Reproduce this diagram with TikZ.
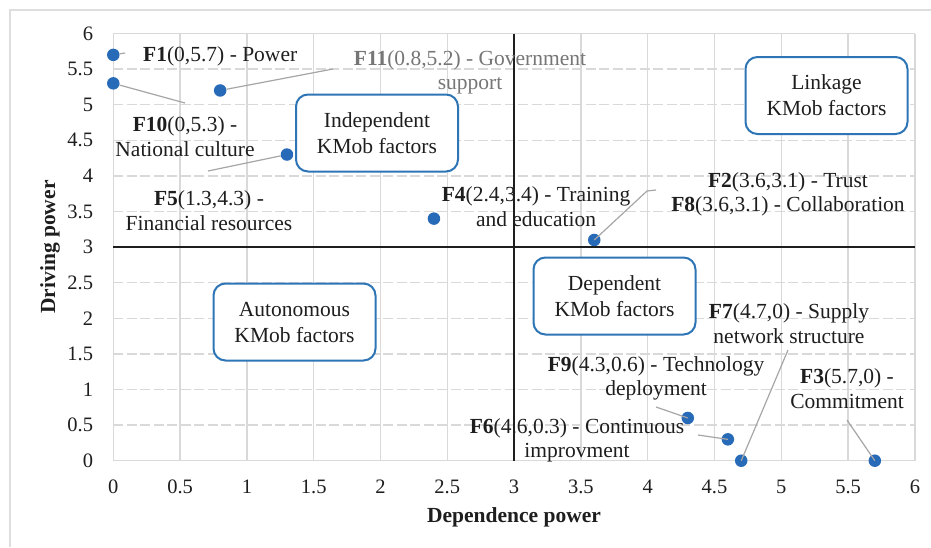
\documentclass[tikz,border=0pt]{standalone}
\usepackage{fontspec}
\setmainfont{Liberation Serif}
\definecolor{gridc}{RGB}{217,217,217}
\definecolor{framec}{RGB}{222,222,222}
\definecolor{ptc}{RGB}{38,106,184}
\definecolor{boxc}{RGB}{46,117,182}
\definecolor{leadc}{RGB}{166,166,166}
\definecolor{txtc}{RGB}{30,30,30}
\definecolor{f11c}{RGB}{118,118,118}
\tikzset{
  lab/.style={font=\fontsize{21.5}{24.5}\selectfont, align=center, inner sep=0pt, text=txtc, yshift=-2.5pt},
  ticklab/.style={font=\fontsize{20.5}{24}\selectfont, inner sep=0pt, text=txtc},
  axtitle/.style={font=\fontsize{21.5}{24}\selectfont\bfseries, inner sep=0pt, text=txtc},
  quad/.style={draw=boxc, line width=2pt, rounded corners=12pt, fill=white, minimum width=162pt, minimum height=77pt, align=center, inner sep=0pt, font=\fontsize{21.5}{26}\selectfont, text=txtc},
  dot/.style={circle, fill=ptc, minimum size=12.5pt, inner sep=0pt},
  leader/.style={draw=leadc, line width=1.2pt},
  hgrid/.style={draw=gridc, line width=1.3pt, dash pattern=on 10pt off 3.5pt},
  vgrid/.style={draw=gridc, line width=1.3pt},
  quadline/.style={draw=txtc, line width=2.3pt}
}
\begin{document}
\begin{tikzpicture}[x=1pt,y=-1pt]
\path[fill=white, use as bounding box] (0,0) rectangle (931,547);
\draw[framec, line width=1.3pt] (10,547) -- (10,10) -- (931,10);
\begin{scope}[shift={(113.3pt,-460.7pt)}, x=133.6pt, y=71.2pt]
  \foreach \v [count=\i] in {0,0.5,1,1.5,2,2.5,3,3.5,4,4.5,5,5.5,6} {
    \draw[vgrid] (\v,0) -- (\v,6);
    \node[ticklab, anchor=east] (yt\i) at ([xshift=-20pt]0,\v) {\v};
    \node[ticklab] (xt\i) at ([yshift=-26.5pt]\v,0) {\v};
  }
  \foreach \v in {0.5,1,1.5,2,2.5,3.5,4,4.5,5,5.5} {
    \draw[hgrid] (0,\v) -- (6,\v);
  }
  \draw[vgrid] (0,0) -- (6,0);
  \draw[vgrid] (0,6) -- (6,6);
  \draw[quadline] (0,3) -- (6,3);
  \draw[quadline] (3,0) -- (3,6);
  \node[dot] (p1) at (0,5.7) {};
  \node[dot] (p10) at (0,5.3) {};
  \node[dot] (p11) at (0.8,5.2) {};
  \node[dot] (p5) at (1.3,4.3) {};
  \node[dot] (p4) at (2.4,3.4) {};
  \node[dot] (p2) at (3.6,3.1) {};
  \node[dot] (p9) at (4.3,0.6) {};
  \node[dot] (p6) at (4.6,0.3) {};
  \node[dot] (p7) at (4.7,0) {};
  \node[dot] (p3) at (5.7,0) {};
\end{scope}
% leader end points
\coordinate (c1) at (125,53);
\coordinate (c10) at (185,103);
\coordinate (c11) at (333,69);
\coordinate (c5) at (208,171);
\coordinate (c2a) at (647,191);
\coordinate (c2b) at (656,190);
\coordinate (c9) at (656,407);
\coordinate (c6) at (698,435);
\coordinate (c7) at (788,350);
\coordinate (c3) at (847,420);
\draw[leader] (p1) -- (c1);
\draw[leader] (p10) -- (c10);
\draw[leader] (p11) -- (c11);
\draw[leader] (p5) -- (c5);
\draw[leader] (p2.center) -- (c2a) -- (c2b);
\draw[leader] (p9.center) -- (c9);
\draw[leader] (p6.center) -- (c6);
\draw[leader] (p7.center) -- (c7);
\draw[leader] (p3.center) -- (c3);
% quadrant boxes
\node[quad] (qi) at (377,133) {Independent\\KMob factors};
\node[quad] (ql) at (826.5,95.5) {Linkage\\KMob factors};
\node[quad] (qa) at (294.5,322) {Autonomous\\KMob factors};
\node[quad] (qd) at (614.5,296) {Dependent\\KMob factors};
% labels
\node[lab, anchor=west] (l1) at (143,54) {\textbf{F1}(0,5.7) - Power};
\node[lab, text=f11c] (l11) at (470,70) {\textbf{F11}(0.8,5.2) - Government\\support};
\node[lab] (l10) at (185,134) {\textbf{F10}(0,5.3) -\\National culture};
\node[lab] (l5) at (209,208) {\textbf{F5}(1.3,4.3) -\\Financial resources};
\node[lab] (l4) at (536,204) {\textbf{F4}(2.4,3.4) - Training\\and education};
\node[lab] (l2) at (788,192) {\textbf{F2}(3.6,3.1) - Trust\\\textbf{F8}(3.6,3.1) - Collaboration};
\node[lab] (l7) at (789,321) {\textbf{F7}(4.7,0) - Supply\\network structure};
\node[lab] (l9) at (656,376) {\textbf{F9}(4.3,0.6) - Technology\\deployment};
\node[lab] (l3) at (847,386) {\textbf{F3}(5.7,0) -\\Commitment};
\node[lab] (l6) at (577,438) {\textbf{F6}(4.6,0.3) - Continuous\\improvment};
% axis titles
\node[axtitle] (tx) at (514,517) {Dependence power};
\node[axtitle, rotate=90] (ty) at (50,247) {Driving power};
\end{tikzpicture}
\end{document}
